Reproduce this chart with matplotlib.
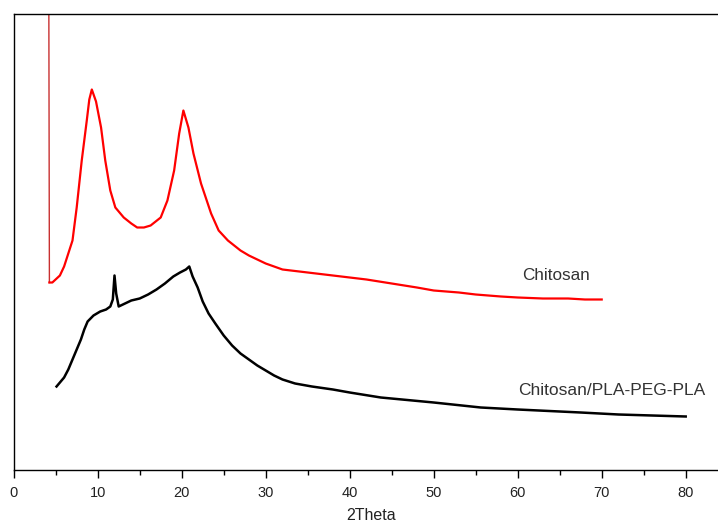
import matplotlib
matplotlib.use("Agg")
import matplotlib.pyplot as plt
from matplotlib.ticker import MultipleLocator

# XRD patterns, values (arbitrary intensity units)
chitosan_2theta = [4.15, 4.25, 4.6, 5.5, 6.0, 6.5, 7.0, 7.5, 8.1, 8.7, 9.0, 9.3,
                   9.8, 10.4, 10.9, 11.5, 12.1, 13.1, 14.0, 14.7, 15.5, 16.3,
                   17.5, 18.3, 19.1, 19.7, 20.2, 20.8, 21.4, 22.3, 23.5, 24.4,
                   25.5, 27.0, 28.0, 30.0, 32.0, 34.0, 36.0, 38.0, 40.0, 42.0,
                   45.0, 48.0, 50.0, 53.0, 55.0, 58.0, 60.0, 63.0, 66.0, 68.0, 70.0]
chitosan_int = [600, 187, 187, 194, 203, 216, 229, 262, 309, 349, 370, 380,
                368, 342, 309, 279, 262, 252, 246, 242, 242, 244,
                252, 269, 299, 336, 359, 342, 316, 286, 256, 239,
                229, 219, 214, 206, 200, 198, 196, 194, 192, 190,
                186, 182, 179, 177, 175, 173, 172, 171, 171, 170, 170]

blend_2theta = [5.1, 5.5, 6.0, 6.5, 7.0, 7.5, 8.0, 8.4, 8.8, 9.5, 10.3, 11.0,
                11.5, 11.8, 12.0, 12.2, 12.5, 13.0, 14.0, 15.0, 16.0, 17.0,
                18.0, 19.0, 19.8, 20.5, 20.9, 21.3, 21.9, 22.5, 23.2, 24.0,
                25.0, 26.0, 27.0, 28.0, 29.0, 30.0, 31.0, 32.0, 33.5, 35.5,
                38.0, 40.0, 43.7, 50.0, 55.6, 60.0, 67.5, 72.0, 76.0, 80.0]
blend_int = [83, 87, 92, 100, 110, 120, 130, 140, 148, 154, 158, 160,
             163, 170, 194, 176, 163, 165, 169, 171, 175, 180,
             186, 193, 197, 200, 203, 193, 182, 168, 156, 146,
             134, 124, 116, 110, 104, 99, 94, 90, 86, 83,
             80, 77, 72, 67, 62, 60, 57, 55, 54, 53]

plt.rcParams['font.family'] = ['Liberation Sans', 'DejaVu Sans']

fig = plt.figure(figsize=(7.18, 5.25), dpi=100)
ax = fig.add_axes([13.7 / 718, 55.5 / 525, 714 / 718, 456 / 525])

# the steep start of the chitosan scan is a thin darker stroke
ax.plot(chitosan_2theta[:2], chitosan_int[:2], color='#c83030', lw=1.0)
ax.plot(chitosan_2theta[1:], chitosan_int[1:], color='#ff0000', lw=1.6)
ax.plot(blend_2theta, blend_int, color='black', lw=1.8)

ax.text(60.5, 194, 'Chitosan', fontsize=12.3, color='#333333', va='center')
ax.text(60.0, 79, 'Chitosan/PLA-PEG-PLA', fontsize=12.5, color='#333333', va='center')

ax.set_xlim(0, 85)
ax.set_ylim(0, 456)
ax.set_yticks([])
ax.xaxis.set_major_locator(MultipleLocator(10))
ax.xaxis.set_minor_locator(MultipleLocator(5))
ax.tick_params(axis='x', which='major', direction='out', length=6, width=1,
               labelsize=10.5, pad=6, labelcolor='#222222')
ax.tick_params(axis='x', which='minor', direction='out', length=3.5, width=1)
ax.set_xlabel('2Theta', fontsize=11.5, labelpad=6, color='#222222')
for sp in ax.spines.values():
    sp.set_linewidth(1.0)

fig.savefig('out.png', dpi=100)
